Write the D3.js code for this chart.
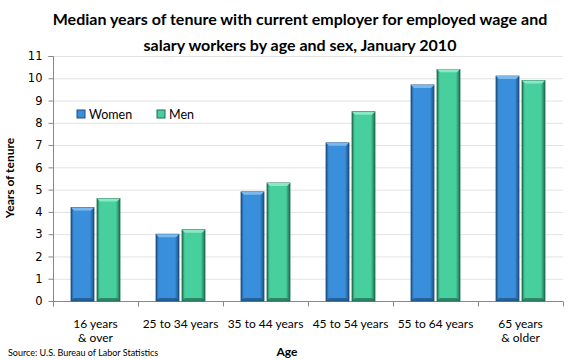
<!DOCTYPE html>
<html><head><meta charset="utf-8">
<script src="https://cdn.jsdelivr.net/npm/d3@7"></script>
<style>body{margin:0;background:#fff}svg{display:block}</style>
</head><body>
<svg id="c" width="580" height="360"></svg>
<script>
const categories = [["16 years","& over"],["25 to 34 years"],["35 to 44 years"],["45 to 54 years"],["55 to 64 years"],["65 years","& older"]];
const women = [4.2, 3.0, 4.9, 7.1, 9.7, 10.1];
const men = [4.6, 3.2, 5.3, 8.5, 10.4, 9.9];
const seriesNames = ["Women","Men"];
const yTicks = d3.range(0, 12);

const svg = d3.select("#c");
const m = {l:53, r:563, t:56, b:301};
const x = d3.scaleBand().domain(d3.range(categories.length)).range([m.l, m.r]).paddingInner(0).paddingOuter(0);
const y = d3.scaleLinear().domain([0, 11]).range([m.b, m.t]);
const colors = [{main:"#3a8fdc", light:"#7ab8ee", dark:"#1d4f80"},{main:"#47d09d", light:"#8ae8c4", dark:"#1f6b52"}];
const font = "Lato, 'Open Sans', sans-serif";

// gridlines
svg.append("g").selectAll("line").data(yTicks.slice(1)).join("line")
  .attr("x1", m.l).attr("x2", m.r).attr("y1", d=>y(d)+0.5).attr("y2", d=>y(d)+0.5)
  .attr("stroke", "#e2e2e2").attr("stroke-width", 1);

// y axis
const ya = svg.append("g").attr("transform", `translate(${m.l+0.5},0)`)
  .call(d3.axisLeft(y).tickValues(yTicks).tickSize(5).tickPadding(6).tickFormat(d3.format("d")));
ya.select(".domain").attr("stroke", "#888").attr("d", `M-5,${m.t+0.5}H0V${m.b+0.5}`);
ya.selectAll(".tick line").attr("stroke", "#888");
ya.selectAll(".tick text").attr("font-family", "'DejaVu Sans', sans-serif").attr("font-size", 11.5).attr("fill", "#000");

// x axis
const xa = svg.append("g").attr("transform", `translate(0,${m.b+0.5})`);
xa.append("line").attr("x1", m.l).attr("x2", m.r).attr("stroke", "#888");
xa.selectAll("line.t").data(d3.range(categories.length+1)).join("line").attr("class","t")
  .attr("x1", d=>m.l + d*x.bandwidth()+0.5).attr("x2", d=>m.l + d*x.bandwidth()+0.5)
  .attr("y1", 0).attr("y2", 5).attr("stroke", "#888");

// bars
const bw = 23, gap = 3;
const data = [];
categories.forEach((c,i)=>{
  [women[i], men[i]].forEach((v,s)=>{
    const cx = x(i) + x.bandwidth()/2;
    const x0 = s===0 ? cx - gap/2 - bw : cx + gap/2;
    data.push({v, s, x0});
  });
});
const defs = svg.append("defs");
colors.forEach((c,s)=>{
  const g = defs.append("linearGradient").attr("id","g"+s).attr("x1",0).attr("x2",1).attr("y1",0).attr("y2",0);
  g.append("stop").attr("offset","0%").attr("stop-color",c.dark);
  g.append("stop").attr("offset","12%").attr("stop-color",c.main);
  g.append("stop").attr("offset","82%").attr("stop-color",c.main);
  g.append("stop").attr("offset","100%").attr("stop-color",c.dark);
});
const bars = svg.append("g").selectAll("g").data(data).join("g");
bars.append("rect").attr("x", d=>d.x0).attr("y", d=>y(d.v)).attr("width", bw).attr("height", d=>y(0)-y(d.v))
  .attr("fill", d=>`url(#g${d.s})`).attr("stroke", d=>colors[d.s].dark).attr("stroke-width", 0.8);
bars.append("path").attr("d", d=>{const t=y(d.v), b=3; return `M${d.x0},${t}H${d.x0+bw}L${d.x0+bw-b},${t+b}H${d.x0+b}Z`;})
  .attr("fill", d=>colors[d.s].light);
bars.append("path").attr("d", d=>{const t=y(0), b=3; return `M${d.x0},${t}H${d.x0+bw}L${d.x0+bw-b},${t-b}H${d.x0+b}Z`;})
  .attr("fill", d=>colors[d.s].dark).attr("opacity",0.7);

// category labels
const cl = svg.append("g").selectAll("text").data(categories).join("text")
  .attr("x", (d,i)=>x(i)+x.bandwidth()/2).attr("y", 328)
  .attr("text-anchor","middle").attr("font-family", font).attr("font-size", 12).attr("fill","#000");
cl.selectAll("tspan").data(d=>d).join("tspan").attr("x", function(){return this.parentNode.getAttribute("x");})
  .attr("dy", (d,i)=>i===0?0:14).text(d=>d);

// legend
const lg = svg.append("g");
const lx = [77, 157];
seriesNames.forEach((n,s)=>{
  lg.append("rect").attr("x", lx[s]).attr("y", 110).attr("width", 8).attr("height", 8)
    .attr("fill", colors[s].main).attr("stroke", colors[s].dark).attr("stroke-width", 1);
  lg.append("text").attr("x", lx[s]+12).attr("y", 118.5).attr("font-family", font).attr("font-size", 12.5).attr("fill","#000").text(n);
});

// title
const title = svg.append("text").attr("text-anchor","middle").attr("font-family", font).attr("font-weight","bold").attr("font-size", 16).attr("fill","#000");
title.append("tspan").attr("x", 300).attr("y", 25).text("Median years of tenure with current employer for employed wage and");
title.append("tspan").attr("x", 300).attr("y", 51).text("salary workers by age and sex, January 2010");

// axis titles
svg.append("text").attr("transform","translate(14,178) rotate(-90)").attr("text-anchor","middle")
  .attr("font-family", font).attr("font-weight","bold").attr("font-size", 12).text("Years of tenure");
svg.append("text").attr("x", 287).attr("y", 356).attr("text-anchor","middle")
  .attr("font-family", font).attr("font-weight","bold").attr("font-size", 12).text("Age");
svg.append("text").attr("x", 8).attr("y", 356)
  .attr("font-family", font).attr("font-size", 9).text("Source:  U.S. Bureau of Labor Statistics");
</script>
</body></html>
